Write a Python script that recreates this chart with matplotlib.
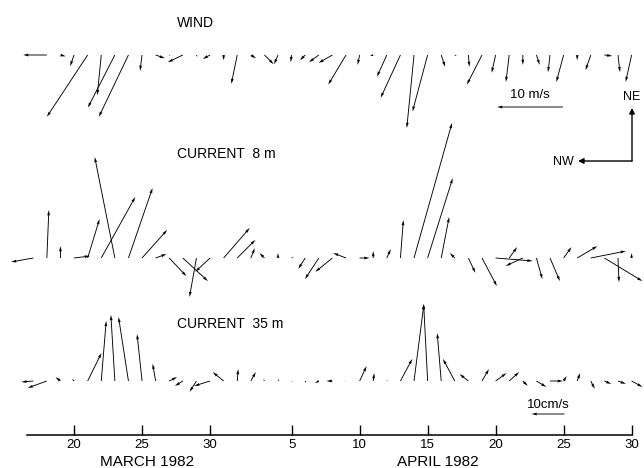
import numpy as np
import matplotlib
matplotlib.use("Agg")
import matplotlib.pyplot as plt

plt.rcParams['font.family'] = ['Liberation Sans', 'DejaVu Sans']

# days counted from 1 March 1982 (April 1 = 32)
days = np.arange(17, 62)

# wind, m/s  (u = towards SE / right, v = towards NE / up)
wind_u = [np.nan, -3.6, 0.8, -0.6, -6.2, -0.6, -4.1, -4.5, -0.3, 1.4, 0.15, -2.3, 0.15, -1.1, 0.0,
          -0.9, 0.8, 1.4, -0.6, -0.15, -0.8, -1.5, -2.1, -2.7, -0.3, -0.5, -1.5, -3.0, -1.1, -2.3,
          0.6, 0.3, 0.15, -2.3, -0.6, -0.5, 0.0, 0.5, -0.3, -1.1, 0.0, -0.8, 1.2, 0.3, -0.9]
wind_v = [np.nan, 0.0, -0.2, -1.7, -9.4, -6.1, -8.0, -9.4, -2.4, -0.5, -0.15, -1.1, -0.3, -0.6, -0.8,
          -4.4, -0.5, -1.4, -1.4, -1.1, -0.8, -1.1, -1.2, -4.5, -1.5, -0.15, -3.3, -6.5, -11.1, -8.6,
          -1.8, -0.15, -1.8, -4.5, -2.7, -4.1, -1.5, -1.5, -2.6, -4.1, -0.8, -2.3, -0.15, -2.6, -4.1]

# current at 8 m, cm/s
cur8_u = [-6.7, 0.6, 0.0, 4.8, 3.6, 10.3, -6.1, 7.3, 7.6, 3.3, 5.2, 7.6, -2.1, -4.5, 7.9,
          5.5, 1.2, -1.5, 0.0, 0.6, -2.1, -4.2, -5.2, -3.9, 3.0, 0.0, 1.2, 0.9, 11.5, 7.6,
          2.4, -1.5, 2.1, 4.5, 11.2, 2.4, -5.2, 1.8, 3.0, 2.4, 6.1, 10.6, 11.5, 0.3, 0.0]
cur8_v = [-1.2, 14.5, 3.6, 0.6, 11.8, 18.5, 30.6, 21.2, 8.5, 1.2, -5.5, -7.0, -11.8, -4.2, 9.1,
          5.5, 3.0, 1.5, 1.5, 0.3, -3.3, -6.4, -4.2, 1.5, 0.0, 2.1, 2.7, 11.5, 40.9, 24.2,
          12.4, 1.5, -4.5, -8.5, -0.9, 3.3, -2.4, -6.4, -7.0, 3.3, 3.6, 2.1, -7.0, -7.3, 1.5]

# current at 35 m, cm/s
cur35_u = [-3.6, -5.8, -1.5, -0.6, 4.2, 1.5, -1.2, -3.0, -1.5, -0.9, 2.4, -2.4, -2.1, -4.8, -3.3,
           0.3, 1.5, -0.3, 0.3, 0.3, 0.3, -1.2, -1.8, -0.3, 2.1, 0.3, 0.3, 3.6, 3.0, -1.2,
           -1.2, -3.6, -2.7, 2.1, 3.3, 3.0, 1.5, 3.0, 3.9, 0.9, 0.9, 1.2, 2.1, 2.4, 3.3]
cur35_v = [-0.3, -2.1, 1.2, 0.6, 8.5, 18.2, 20.0, 19.4, 14.2, 5.2, 1.2, -1.5, -3.3, -1.5, 2.7,
           3.6, 2.7, 0.6, 0.6, -0.3, -0.6, -0.6, 0.0, 0.0, 4.5, 2.4, 0.3, 6.7, 23.3, 23.3,
           14.5, 6.7, 2.1, 3.6, 2.4, 2.7, -1.5, -1.8, 0.0, 1.5, 2.4, -2.4, -0.9, -0.9, -1.8]

tick_days = [20, 25, 30, 36, 41, 46, 51, 56, 61]
tick_labels = ['20', '25', '30', '5', '10', '15', '20', '25', '30']

W, H = 644, 468
fig = plt.figure(figsize=(W / 100, H / 100), dpi=100)
fig.patch.set_facecolor('white')
ax = fig.add_axes([27 / W, 33 / H, 605 / W, 435 / H])
ax.set_xlim(16.54, 61.03)
ax.set_ylim(0, 435)

arrow_kw = dict(angles='uv', scale_units='inches', units='dots', width=0.9,
                headwidth=3.2, headlength=6, headaxislength=5.5, color='k',
                pivot='tail', clip_on=False)

panels = [(wind_u, wind_v, 380, 15.2),
          (cur8_u, cur8_v, 177, 30.3),
          (cur35_u, cur35_v, 54, 30.3)]
quivers = []
for u, v, base, sc in panels:
    u = np.asarray(u, float)
    v = np.asarray(v, float)
    ok = np.isfinite(u)
    q = ax.quiver(days[ok], np.full(ok.sum(), base), u[ok], v[ok], scale=sc, **arrow_kw)
    quivers.append(q)

# scale arrows
ax.quiverkey(quivers[0], 530 / W, 1 - 107 / H, 10, '10 m/s', angle=180,
             coordinates='figure', labelpos='N', labelsep=0.055,
             fontproperties={'size': 9.5})
ax.quiverkey(quivers[1], 548 / W, 1 - 414 / H, 10, '10cm/s', angle=180,
             coordinates='figure', labelpos='N', labelsep=0.03,
             fontproperties={'size': 9.5})

# compass
corner = (632 / W, 1 - 161 / H)
ax.annotate('', xy=(632 / W, 1 - 108 / H), xytext=corner, xycoords='figure fraction',
            arrowprops=dict(arrowstyle='-|>', lw=1, color='k', mutation_scale=8,
                            shrinkA=0, shrinkB=0))
ax.annotate('', xy=(578 / W, 1 - 161 / H), xytext=corner, xycoords='figure fraction',
            arrowprops=dict(arrowstyle='-|>', lw=1, color='k', mutation_scale=8,
                            shrinkA=0, shrinkB=0))
fig.text(632 / W, 1 - 97 / H, 'NE', ha='center', va='center', fontsize=9)
fig.text(563 / W, 1 - 162 / H, 'NW', ha='center', va='center', fontsize=9)

# panel titles
fig.text(195 / W, 1 - 23 / H, 'WIND', ha='center', va='center', fontsize=10)
fig.text(177 / W, 1 - 154 / H, 'CURRENT  8 m', ha='left', va='center', fontsize=10)
fig.text(177 / W, 1 - 324 / H, 'CURRENT  35 m', ha='left', va='center', fontsize=10)

# time axis
for s in ['top', 'left', 'right']:
    ax.spines[s].set_visible(False)
ax.spines['bottom'].set_linewidth(1.1)
ax.set_yticks([])
ax.set_xticks(tick_days)
ax.set_xticklabels(tick_labels)
ax.tick_params(axis='x', direction='in', length=7, width=1, pad=3, labelsize=9.5)
ax.patch.set_alpha(0)

fig.text(147 / W, 1 - 462 / H, 'MARCH 1982', ha='center', va='center', fontsize=11)
fig.text(438 / W, 1 - 462 / H, 'APRIL 1982', ha='center', va='center', fontsize=11)

fig.savefig('out.png', dpi=100, facecolor='white')
